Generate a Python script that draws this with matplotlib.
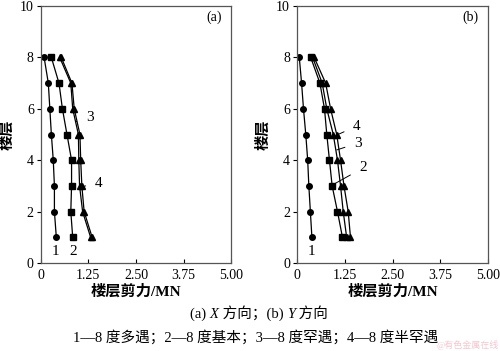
import matplotlib
matplotlib.use("Agg")
import matplotlib.pyplot as plt
import numpy as np

plt.rcParams['font.family'] = ['Liberation Serif', 'Noto Sans CJK SC']

floors = [8, 7, 6, 5, 4, 3, 2, 1]

# (a) X direction, storey shear in MN
x_s1 = [0.09, 0.20, 0.24, 0.28, 0.33, 0.36, 0.36, 0.41]
x_s2 = [0.28, 0.48, 0.57, 0.69, 0.81, 0.81, 0.79, 0.84]
x_s3 = [0.50, 0.79, 0.84, 0.99, 1.00, 1.02, 1.10, 1.31]
x_s4 = [0.54, 0.82, 0.88, 1.03, 1.05, 1.08, 1.14, 1.35]

# (b) Y direction
y_s1 = [0.06, 0.12, 0.17, 0.23, 0.28, 0.31, 0.35, 0.39]
y_s2 = [0.36, 0.60, 0.72, 0.78, 0.85, 0.92, 1.06, 1.19]
y_s3 = [0.41, 0.66, 0.78, 0.95, 1.06, 1.14, 1.21, 1.30]
y_s4 = [0.45, 0.75, 0.88, 1.04, 1.14, 1.23, 1.34, 1.40]

xticks = [0, 1.25, 2.50, 3.75, 5.00]
xtick_labels = ['0', '1.25', '2.50', '3.75', '5.00']
yticks = [0, 2, 4, 6, 8, 10]

fig = plt.figure(figsize=(5.0, 3.51), dpi=100)
ax1 = fig.add_axes([0.0814, 0.2507, 0.381, 0.732])
ax2 = fig.add_axes([0.594, 0.2507, 0.382, 0.732])


def draw_panel(ax, s1, s2, s3, s4, tag):
    ax.plot(s1, floors, color='black', lw=0.9, marker='o', ms=4)
    ax.plot(s2, floors, color='black', lw=0.9, marker='s', ms=4)
    ax.plot(s3, floors, color='black', lw=0.9, marker='^', ms=4.5)
    ax.plot(s4, floors, color='black', lw=0.9, marker='^', ms=4.5)
    ax.set_xlim(0, 5)
    ax.set_ylim(0, 10)
    ax.set_xticks(xticks)
    ax.set_xticklabels(xtick_labels)
    ax.set_yticks(yticks)
    ax.tick_params(axis='x', direction='in', labelsize=10, length=3, pad=4)
    ax.tick_params(axis='y', direction='out', labelsize=10, length=3, pad=2)
    for sp in ax.spines.values():
        sp.set_color('#555555')
        sp.set_linewidth(0.9)
    ax.set_xlabel('楼层剪力/MN', fontsize=11, fontweight='bold', labelpad=2)
    ax.set_ylabel('楼层', fontsize=11, fontweight='bold', labelpad=4)
    ax.text(0.91, 0.955, tag, transform=ax.transAxes, ha='center', va='center', fontsize=10)


draw_panel(ax1, x_s1, x_s2, x_s3, x_s4, '(a)')
draw_panel(ax2, y_s1, y_s2, y_s3, y_s4, '(b)')

lead = dict(arrowstyle='-', lw=0.7, color='black', shrinkA=5, shrinkB=0)

# curve labels, panel (a)
ax1.text(0.375, 0.43, '1', fontsize=11, ha='center', va='center')
ax1.text(0.84, 0.43, '2', fontsize=11, ha='center', va='center')
ax1.annotate('3', xy=(0.92, 5.50), xytext=(1.29, 5.68), fontsize=11, va='center', ha='center', arrowprops=lead)
ax1.annotate('4', xy=(1.08, 2.97), xytext=(1.53, 3.11), fontsize=11, va='center', ha='center', arrowprops=lead)

# curve labels, panel (b)
ax2.text(0.37, 0.43, '1', fontsize=11, ha='center', va='center')
ax2.annotate('4', xy=(1.04, 4.98), xytext=(1.57, 5.33), fontsize=11, va='center', ha='center', arrowprops=lead)
ax2.annotate('3', xy=(1.04, 4.40), xytext=(1.60, 4.67), fontsize=11, va='center', ha='center', arrowprops=lead)
ax2.annotate('2', xy=(0.93, 3.04), xytext=(1.73, 3.70), fontsize=11, va='center', ha='center', arrowprops=lead)

# caption with italic X / Y, pieces chained left to right
pieces = [('(a) ', 'normal'), ('X', 'italic'), (' 方向；(b) ', 'normal'), ('Y', 'italic'), (' 方向', 'normal')]
prev = fig.text(190 / 500, 1 - 321 / 351, pieces[0][0], ha='left', va='bottom', fontsize=10.5)
for txt, st in pieces[1:]:
    prev = ax1.annotate(txt, xy=(1, 0), xycoords=prev, ha='left', va='bottom',
                        fontsize=10.5, style=st, annotation_clip=False)

fig.text(0.512, 1 - 337 / 351, '1—8 度多遇；2—8 度基本；3—8 度罕遇；4—8 度半罕遇',
         ha='center', va='center', fontsize=10.5)
fig.text(0.998, 0.002, '@有色金属在线', ha='right', va='bottom',
         fontsize=6.5, color='#f2b8c2', alpha=0.8)

fig.savefig('out.png', dpi=100)
